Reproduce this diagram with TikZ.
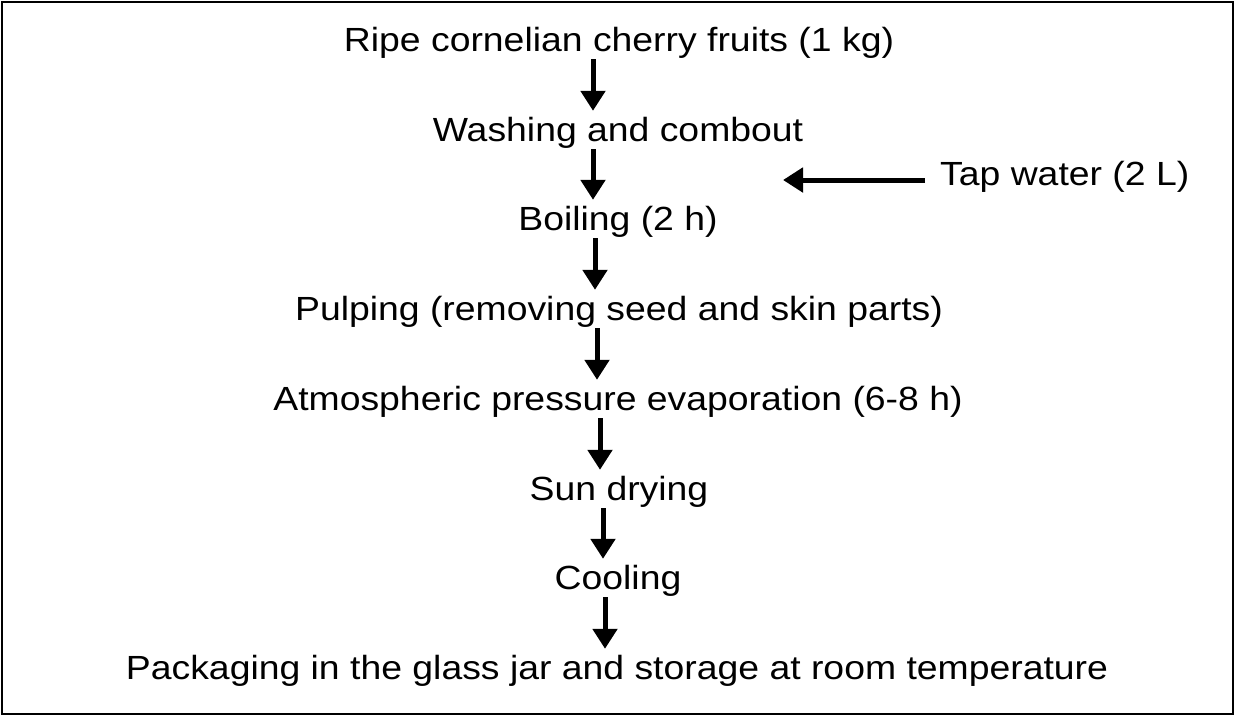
\documentclass[tikz,border=0pt]{standalone}
\usepackage{fontspec}
\setmainfont{Liberation Sans}[FakeStretch=1.115]
\usetikzlibrary{arrows.meta}
\begin{document}
\begin{tikzpicture}[x=1pt,y=-1pt,
  stage/.style={anchor=base,inner sep=0pt,text height=30pt,text depth=8pt,font=\fontsize{33.5}{38}\selectfont},
  flow/.style={line width=5pt,-{Triangle[width=24pt,length=20pt]}}]
\useasboundingbox (0,0) rectangle (1236,716);
\draw[line width=2pt] (2,2) rectangle (1233,714);
\node[stage] (s1) at (619,51) {Ripe cornelian cherry fruits (1 kg)};
\node[stage] (s2) at (618,141) {Washing and combout};
\node[stage] (s3) at (618,230) {Boiling (2 h)};
\node[stage] (s4) at (619,320) {Pulping (removing seed and skin parts)};
\node[stage] (s5) at (618,410) {Atmospheric pressure evaporation (6-8 h)};
\node[stage] (s6) at (619,500) {Sun drying};
\node[stage] (s7) at (618,589) {Cooling};
\node[stage] (s8) at (617,679) {Packaging in the glass jar and storage at room temperature};
\node[stage,anchor=base west] (tap) at (940,185) {Tap water (2 L)};
\coordinate (tapend) at (783,180);
\draw[flow] (s1.south -| 593,0) -- (s2.north -| 593,0);
\draw[flow] (s2.south -| 593,0) -- (s3.north -| 593,0);
\draw[flow] (s3.south -| 595,0) -- (s4.north -| 595,0);
\draw[flow] (s4.south -| 597,0) -- (s5.north -| 597,0);
\draw[flow] (s5.south -| 600,0) -- (s6.north -| 600,0);
\draw[flow] (s6.south -| 603,0) -- (s7.north -| 603,0);
\draw[flow] (s7.south -| 605,0) -- (s8.north -| 605,0);
\draw[flow] ([xshift=-15pt]tap.west |- tapend) -- (tapend);
\end{tikzpicture}
\end{document}
